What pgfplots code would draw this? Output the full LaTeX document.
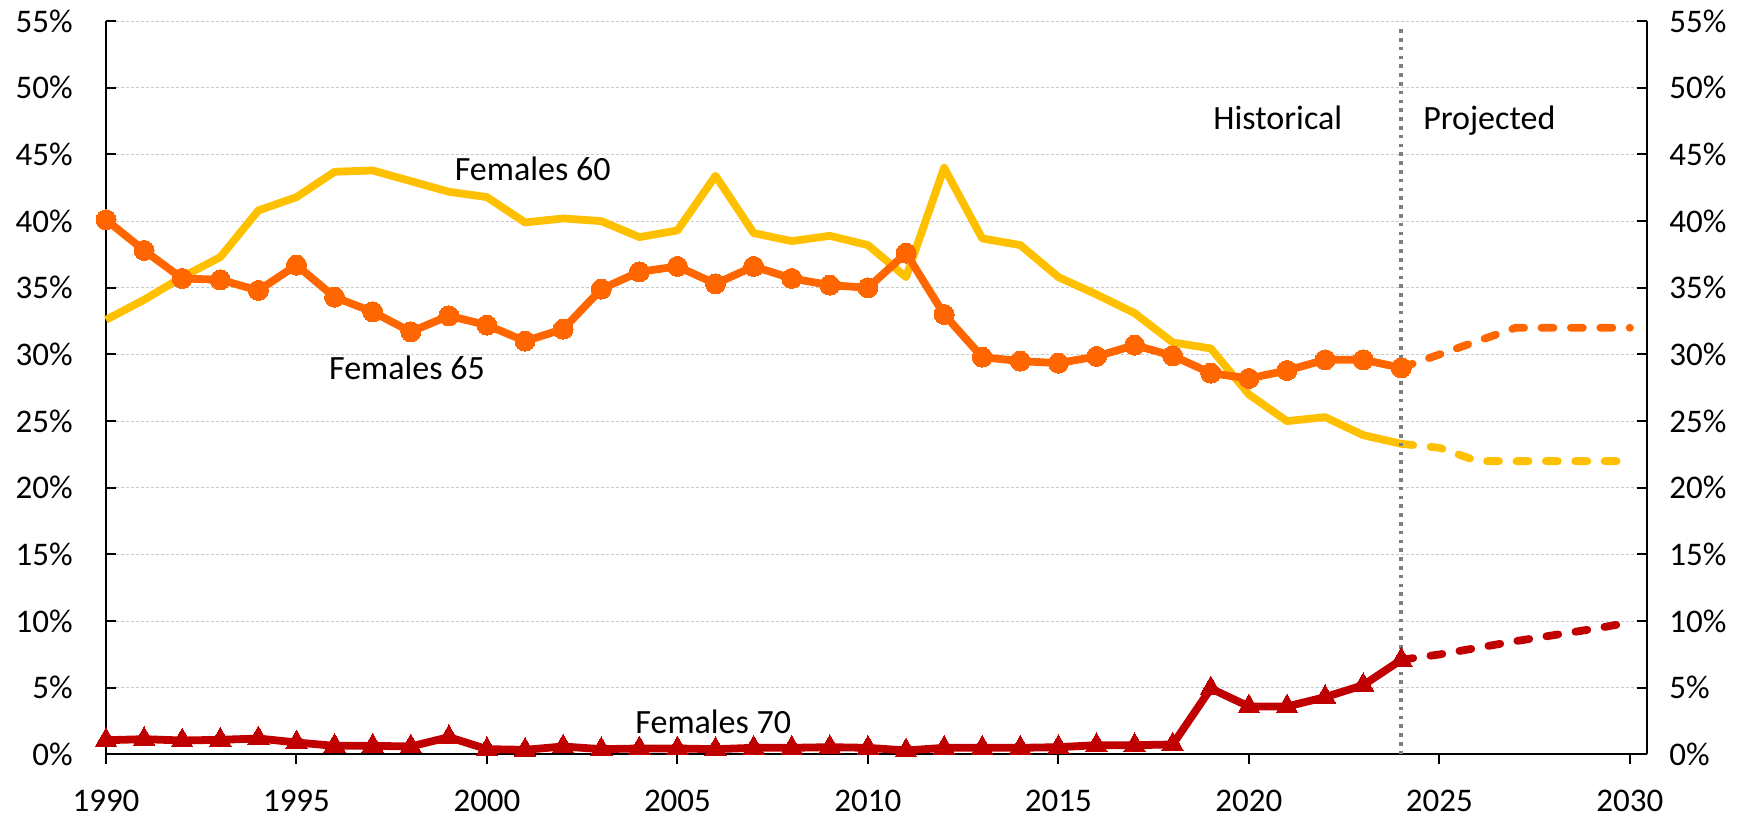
\documentclass[border=0pt]{standalone}
\usepackage{fontspec}
\setmainfont{Carlito}
\usepackage{pgfplots}
\pgfplotsset{compat=1.18}
\definecolor{f60}{HTML}{FFC000}
\definecolor{f65}{HTML}{FF6600}
\definecolor{f70}{HTML}{C00000}
\definecolor{gridc}{HTML}{C8C8C8}
\definecolor{divc}{HTML}{7F7F7F}

\begin{document}
\begin{tikzpicture}
\useasboundingbox (-53pt,-36.75pt) rectangle (821.5pt,377.25pt);
\pgfplotsset{
  common/.style={
    at={(0pt,0pt)}, anchor=south west,
    width=770.5pt, height=366.7pt, scale only axis,
    xmin=1990, xmax=2030.45, ymin=0, ymax=55,
    ytick={0,5,...,55},
    yticklabels={0\%,5\%,10\%,15\%,20\%,25\%,30\%,35\%,40\%,45\%,50\%,55\%},
    axis line style={black, line width=1pt, -},
    tick style={black, line width=1pt},
    major tick length=5pt,
    ytick align=inside,
    ticklabel style={font=\fontsize{16.5}{18}\selectfont, inner sep=0pt},
    /pgf/number format/assume math mode=true,
  },
  hist/.style={line width=3.9pt, line join=round},
  proj/.style={line width=3.9pt, line cap=round, line join=round, dash pattern=on 6pt off 8.7pt},
}
\begin{axis}[common,
    axis x line*=bottom, axis y line*=left,
    xtick={1990,1995,...,2030},
    xticklabels={1990,1995,2000,2005,2010,2015,2020,2025,2030},
    xtick align=outside,
    xticklabel style={yshift=-12.5pt},
    yticklabel style={xshift=-16.5pt},
    ymajorgrids,
    grid style={gridc, line width=0.5pt, dash pattern=on 1.5pt off 1pt},
    clip=false,
  ]
  % Females 60, historical
  \addplot[f60, hist] coordinates {
    (1990,32.6) (1991,34.1) (1992,35.8) (1993,37.3) (1994,40.8)
    (1995,41.8) (1996,43.7) (1997,43.8) (1998,43.0) (1999,42.2)
    (2000,41.8) (2001,39.9) (2002,40.2) (2003,40.0) (2004,38.8)
    (2005,39.3) (2006,43.4) (2007,39.1) (2008,38.5) (2009,38.9)
    (2010,38.2) (2011,35.8) (2012,44.0) (2013,38.7) (2014,38.2)
    (2015,35.8) (2016,34.5) (2017,33.1) (2018,30.9) (2019,30.45)
    (2020,27.0) (2021,25.0) (2022,25.3) (2023,23.95) (2024,23.3)
  };
  % Females 60, projected
  \addplot[f60, proj] coordinates {
    (2024,23.3) (2025,23.0) (2026,22.0) (2027,22.0) (2028,22.0) (2029,22.0) (2030,22.0)
  };
  % Females 65, historical
  \addplot[f65, hist, mark=*, mark size=5pt,
    mark options={solid, fill=f65, draw=f65, line width=0pt}] coordinates {
    (1990,40.1) (1991,37.8) (1992,35.7) (1993,35.6) (1994,34.8)
    (1995,36.7) (1996,34.3) (1997,33.2) (1998,31.7) (1999,32.9)
    (2000,32.2) (2001,31.0) (2002,31.9) (2003,34.9) (2004,36.2)
    (2005,36.6) (2006,35.3) (2007,36.6) (2008,35.7) (2009,35.2)
    (2010,35.0) (2011,37.6) (2012,33.0) (2013,29.8) (2014,29.5)
    (2015,29.35) (2016,29.85) (2017,30.7) (2018,29.9) (2019,28.6)
    (2020,28.2) (2021,28.8) (2022,29.6) (2023,29.6) (2024,29.0)
  };
  % Females 65, projected
  \addplot[f65, proj] coordinates {
    (2024,29.0) (2025,30.0) (2026,31.0) (2027,32.0) (2028,32.0) (2029,32.0) (2030,32.0)
  };
  % Females 70, historical
  \addplot[f70, hist, mark=triangle*, mark size=6.2pt,
    mark options={solid, fill=f70, draw=f70, line width=0pt}] coordinates {
    (1990,1.07) (1991,1.15) (1992,1.05) (1993,1.1) (1994,1.2)
    (1995,0.9) (1996,0.65) (1997,0.65) (1998,0.6) (1999,1.3)
    (2000,0.4) (2001,0.35) (2002,0.6) (2003,0.4) (2004,0.45)
    (2005,0.45) (2006,0.4) (2007,0.5) (2008,0.5) (2009,0.55)
    (2010,0.5) (2011,0.3) (2012,0.5) (2013,0.5) (2014,0.5)
    (2015,0.55) (2016,0.7) (2017,0.7) (2018,0.75) (2019,4.95)
    (2020,3.6) (2021,3.6) (2022,4.3) (2023,5.2) (2024,7.1)
  };
  % Females 70, projected
  \addplot[f70, proj] coordinates {
    (2024,7.1) (2025,7.5) (2026,8.0) (2027,8.5) (2028,8.95) (2029,9.4) (2030,9.9)
  };
  % divider between historical and projected
  \addplot[divc, line width=1.8pt, dash pattern=on 1.8pt off 2.6pt] coordinates {
    (2024,0) (2024,54.6)
  };
  \node[font=\fontsize{17}{19}\selectfont, anchor=base] at (axis cs:2001.2,43.04) {Females 60};
  \node[font=\fontsize{17}{19}\selectfont, anchor=base] at (axis cs:1997.9,28.13) {Females 65};
  \node[font=\fontsize{17}{19}\selectfont, anchor=base] at (axis cs:2005.94,1.59) {Females 70};
  \node[font=\fontsize{17}{19}\selectfont, anchor=base] at (axis cs:2020.76,46.84) {Historical};
  \node[font=\fontsize{17}{19}\selectfont, anchor=base] at (axis cs:2026.31,46.84) {Projected};
\end{axis}
\begin{axis}[common,
    axis x line=none, axis y line*=right,
    yticklabel style={anchor=west, xshift=11pt},
  ]
\end{axis}
\end{tikzpicture}
\end{document}
